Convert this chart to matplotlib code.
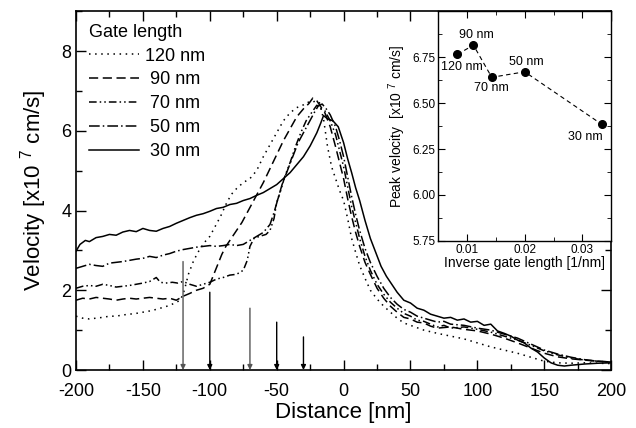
import matplotlib
matplotlib.use("Agg")
import matplotlib.pyplot as plt
from matplotlib.ticker import MultipleLocator

plt.rcParams['font.family'] = ['Liberation Sans', 'DejaVu Sans']
plt.rcParams['mathtext.fontset'] = 'custom'
plt.rcParams['mathtext.rm'] = 'Liberation Sans'
plt.rcParams['mathtext.it'] = 'Liberation Sans:italic'
plt.rcParams['axes.unicode_minus'] = False

# ---- main panel data (velocity profiles, x in nm, v in 1e7 cm/s) ----
x_120 = [-200, -195, -190, -185, -180, -175, -170, -165, -160, -155, -150, -145, -140, -135, -130, -125, -122,
         -119, -116, -112, -108, -104, -100, -96, -92, -88, -84, -80, -75, -70, -65, -60, -55, -50, -45, -40,
         -35, -30, -27, -24, -21, -18, -15, -12, -9, -6, -3, 0, 3, 6, 9, 12, 16, 20, 25, 30, 35, 40, 45, 50,
         60, 70, 80, 90, 100, 110, 120, 130, 140, 150, 160, 170, 180, 190, 200]
v_120 = [1.35, 1.30, 1.28, 1.30, 1.32, 1.35, 1.35, 1.38, 1.40, 1.42, 1.45, 1.48, 1.52, 1.57, 1.62, 1.70, 1.75,
         2.00, 2.40, 2.75, 3.00, 3.20, 3.35, 3.60, 3.85, 4.15, 4.40, 4.55, 4.70, 4.80, 5.00, 5.35, 5.65, 5.95,
         6.25, 6.45, 6.58, 6.65, 6.72, 6.70, 6.75, 6.70, 6.30, 5.60, 5.10, 4.80, 4.50, 4.25, 3.80, 3.30, 2.95,
         2.62, 2.30, 2.00, 1.78, 1.60, 1.45, 1.30, 1.18, 1.12, 1.00, 0.92, 0.85, 0.78, 0.68, 0.58, 0.50, 0.42,
         0.32, 0.22, 0.18, 0.17, 0.18, 0.17, 0.16]

x_90 = [-200, -195, -190, -185, -180, -175, -170, -165, -160, -155, -150, -145, -140, -135, -130, -125, -120,
        -115, -110, -105, -100, -97, -94, -91, -88, -84, -80, -76, -72, -68, -64, -60, -55, -50, -45, -40, -35,
        -30, -26, -23, -20, -17, -14, -10, -6, -3, 0, 3, 6, 9, 12, 16, 20, 25, 30, 35, 40, 45, 50, 55, 60, 65,
        70, 80, 90, 100, 110, 120, 130, 140, 150, 160, 170, 180, 190, 200]
v_90 = [1.75, 1.80, 1.78, 1.82, 1.80, 1.78, 1.75, 1.78, 1.80, 1.78, 1.80, 1.82, 1.80, 1.78, 1.80, 1.75, 1.85,
        1.92, 2.00, 2.05, 2.15, 2.40, 2.65, 2.90, 3.10, 3.30, 3.50, 3.70, 3.95, 4.20, 4.45, 4.70, 5.05, 5.40,
        5.75, 6.05, 6.35, 6.55, 6.68, 6.82, 6.75, 6.60, 6.45, 6.10, 5.60, 5.20, 4.80, 4.30, 3.85, 3.45, 3.10,
        2.70, 2.40, 2.05, 1.80, 1.60, 1.45, 1.32, 1.28, 1.20, 1.18, 1.10, 1.05, 1.08, 1.02, 0.98, 0.90, 0.80,
        0.68, 0.55, 0.42, 0.33, 0.28, 0.25, 0.22, 0.20]

x_70 = [-200, -195, -190, -185, -180, -175, -170, -165, -160, -155, -150, -145, -140, -137, -133, -128, -124,
        -120, -115, -110, -105, -100, -95, -90, -85, -80, -75, -72, -70, -67, -63, -58, -55, -52, -50, -47, -44,
        -40, -36, -32, -28, -24, -20, -17, -14, -10, -6, -3, 0, 3, 6, 9, 12, 16, 20, 25, 30, 35, 40, 45, 50,
        55, 60, 65, 70, 75, 80, 90, 100, 110, 120, 130, 140, 150, 160, 170, 180, 190, 200]
v_70 = [2.05, 2.10, 2.12, 2.10, 2.15, 2.12, 2.08, 2.10, 2.12, 2.15, 2.18, 2.22, 2.32, 2.20, 2.18, 2.20, 2.18,
        2.22, 2.15, 2.10, 2.15, 2.20, 2.28, 2.32, 2.38, 2.40, 2.50, 2.75, 3.10, 3.30, 3.35, 3.40, 3.50, 3.80,
        4.20, 4.50, 4.85, 5.20, 5.60, 5.95, 6.25, 6.45, 6.64, 6.55, 6.50, 6.25, 5.90, 5.50, 5.10, 4.60, 4.10,
        3.70, 3.30, 2.85, 2.50, 2.15, 1.90, 1.70, 1.55, 1.42, 1.35, 1.25, 1.22, 1.15, 1.08, 1.12, 1.05, 1.08,
        1.02, 0.95, 0.85, 0.75, 0.62, 0.48, 0.38, 0.30, 0.25, 0.22, 0.20]

x_50 = [-200, -195, -190, -185, -180, -175, -170, -165, -160, -155, -150, -145, -140, -135, -130, -125, -120,
        -115, -110, -105, -100, -95, -90, -85, -80, -75, -70, -65, -60, -55, -52, -49, -46, -42, -38, -34, -30,
        -26, -22, -19, -16, -13, -10, -6, -3, 0, 3, 6, 9, 12, 16, 20, 25, 30, 35, 40, 45, 50, 55, 60, 65, 70,
        75, 80, 90, 100, 110, 120, 130, 140, 150, 160, 170, 180, 190, 200]
v_50 = [2.55, 2.60, 2.65, 2.62, 2.60, 2.68, 2.70, 2.72, 2.75, 2.78, 2.80, 2.85, 2.82, 2.88, 2.92, 2.98, 3.02,
        3.05, 3.08, 3.10, 3.12, 3.10, 3.12, 3.15, 3.12, 3.15, 3.25, 3.35, 3.45, 3.65, 3.95, 4.30, 4.65, 5.00,
        5.35, 5.70, 5.95, 6.20, 6.45, 6.62, 6.67, 6.55, 6.40, 6.10, 5.75, 5.35, 4.85, 4.35, 3.90, 3.50, 3.05,
        2.70, 2.35, 2.05, 1.82, 1.65, 1.52, 1.45, 1.35, 1.30, 1.25, 1.20, 1.22, 1.15, 1.12, 1.05, 1.00, 0.90,
        0.80, 0.65, 0.50, 0.40, 0.32, 0.26, 0.22, 0.20]

x_30 = [-200, -197, -193, -190, -185, -180, -175, -170, -165, -160, -155, -150, -145, -140, -135, -130, -125,
        -120, -115, -110, -105, -100, -95, -90, -85, -80, -75, -70, -65, -60, -55, -50, -45, -40, -35, -30, -25,
        -20, -17, -15, -12, -8, -4, 0, 3, 6, 9, 12, 16, 20, 24, 28, 32, 36, 40, 45, 50, 55, 60, 65, 70, 75, 80,
        85, 90, 95, 100, 105, 110, 115, 120, 125, 130, 135, 140, 145, 150, 155, 160, 165, 170, 180, 190, 200]
v_30 = [2.98, 3.15, 3.25, 3.22, 3.32, 3.35, 3.40, 3.38, 3.46, 3.50, 3.47, 3.55, 3.50, 3.48, 3.55, 3.60, 3.68,
        3.75, 3.82, 3.88, 3.92, 3.98, 4.05, 4.08, 4.15, 4.18, 4.25, 4.30, 4.38, 4.45, 4.55, 4.65, 4.80, 4.95,
        5.15, 5.35, 5.62, 5.95, 6.20, 6.38, 6.30, 6.25, 6.10, 5.70, 5.30, 4.95, 4.57, 4.25, 3.75, 3.30, 2.95,
        2.60, 2.35, 2.15, 1.95, 1.75, 1.68, 1.55, 1.50, 1.40, 1.35, 1.30, 1.32, 1.25, 1.28, 1.20, 1.22, 1.12,
        1.15, 0.98, 0.92, 0.85, 0.75, 0.68, 0.55, 0.45, 0.30, 0.18, 0.12, 0.10, 0.12, 0.15, 0.17, 0.18]

labels = ["120 nm", " 90 nm", " 70 nm", " 50 nm", " 30 nm"]
series = [(x_120, v_120), (x_90, v_90), (x_70, v_70), (x_50, v_50), (x_30, v_30)]
styles = [(0, (1, 3)), (0, (6, 3)), (0, (5, 2, 1, 2, 1, 2)), (0, (7, 2, 1, 2)), '-']

# gate edge arrows
arrow_x = [-120, -100, -70, -50, -30]
arrow_top = [2.72, 1.95, 1.55, 1.2, 0.83]
arrow_col = ['#555555', 'black', '#555555', 'black', 'black']

# ---- inset data ----
gate_len = [120, 90, 70, 50, 30]
peak_v = [6.765, 6.815, 6.64, 6.67, 6.385]
inv_len = [1.0 / g for g in gate_len]
pt_labels = ["120 nm", "90 nm", "70 nm", "50 nm", "30 nm"]
pt_offsets = [(3, -9), (2, 7), (0, -8), (1, 7), (-12, -9)]

fig = plt.figure(figsize=(6.36, 4.28), dpi=100)
ax = fig.add_axes([0.1195, 0.1355, 0.8415, 0.8385])

for (xs, vs), lab, ls in zip(series, labels, styles):
    ax.plot(xs, vs, color='black', lw=1.1, linestyle=ls, label=lab)

for xa, ya, c in zip(arrow_x, arrow_top, arrow_col):
    ax.annotate('', xy=(xa, 0), xytext=(xa, ya),
                arrowprops=dict(arrowstyle='-|>', color=c, lw=1.0, mutation_scale=7,
                                shrinkA=0, shrinkB=0))

ax.set_xlim(-200, 200)
ax.set_ylim(0, 9)
ax.xaxis.set_major_locator(MultipleLocator(50))
ax.xaxis.set_minor_locator(MultipleLocator(25))
ax.yaxis.set_major_locator(MultipleLocator(2))
ax.yaxis.set_minor_locator(MultipleLocator(1))
ax.tick_params(which='both', direction='in', top=True, right=True, labelsize=13, width=1)
ax.tick_params(which='major', length=7)
ax.tick_params(which='minor', length=4)
ax.tick_params(axis='x', pad=9)
for s in ax.spines.values():
    s.set_linewidth(1.2)
ax.set_xlabel("Distance [nm]", fontsize=16, labelpad=2)
ax.set_ylabel("Velocity [x10 $^{7}$ cm/s]", fontsize=16, labelpad=9)

leg = ax.legend(loc='upper left', frameon=False, fontsize=13, title="Gate length",
                title_fontsize=13, handlelength=2.8, handletextpad=0.3, labelspacing=0.38,
                borderaxespad=0.3, alignment='left')

# inset
ins = fig.add_axes([0.689, 0.437, 0.272, 0.537])
ins.plot(inv_len, peak_v, color='black', lw=0.8, linestyle=(0, (4, 3)),
         marker='o', markersize=5.5)
for xi, yi, t, off in zip(inv_len, peak_v, pt_labels, pt_offsets):
    ins.annotate(t, (xi, yi), xytext=off, textcoords='offset points',
                 ha='center', va='center', fontsize=9)
ins.set_xlim(0.005, 0.035)
ins.set_ylim(5.75, 7.0)
ins.xaxis.set_minor_locator(MultipleLocator(0.005))
ins.yaxis.set_minor_locator(MultipleLocator(0.125))
ins.set_xticks([0.01, 0.02, 0.03])
ins.set_xticklabels(["0.01", "0.02", "0.03"])
ins.set_yticks([5.75, 6.0, 6.25, 6.5, 6.75])
ins.set_yticklabels(["5.75", "6.00", "6.25", "6.50", "6.75"])
ins.tick_params(which='both', direction='in', top=True, right=True, labelsize=8.5, pad=2)
ins.tick_params(which='major', length=5)
ins.tick_params(which='minor', length=3)
for s in ins.spines.values():
    s.set_linewidth(1.0)
ins.set_xlabel("Inverse gate length [1/nm]", fontsize=10, labelpad=0)
ins.set_ylabel("Peak velocity  [x10 $^{7}$ cm/s]", fontsize=10, labelpad=3)

fig.savefig("out.png", dpi=100)
